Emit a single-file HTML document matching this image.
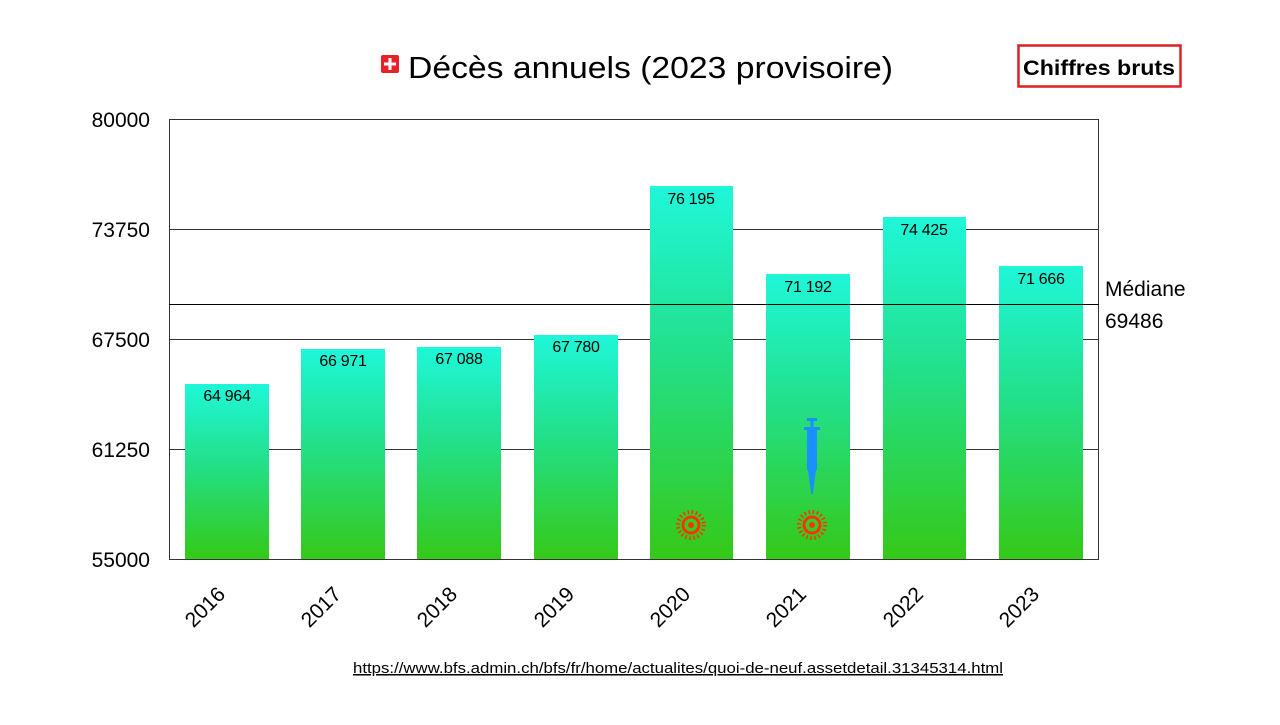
<!DOCTYPE html>
<html><head><meta charset="utf-8"><style>
body{margin:0;background:#fff;width:1280px;height:720px;overflow:hidden;font-family:"Liberation Sans",sans-serif}
</style></head><body>
<svg width="1280" height="720" xmlns="http://www.w3.org/2000/svg" font-family="Liberation Sans, sans-serif">
<defs>
<linearGradient id="g" x1="0" y1="0" x2="0" y2="1">
<stop offset="0" stop-color="#1ff7da"/><stop offset="0.45" stop-color="#22e08a"/><stop offset="1" stop-color="#35c918"/>
</linearGradient>
<g id="virus" fill="none" stroke="#ff3300">
<circle r="8" stroke-width="3"/><circle r="3" fill="#ff3300" stroke="none"/>
<circle r="13" stroke-width="4" stroke-dasharray="1.5 2.6"/>
</g>
</defs>
<rect x="381" y="55" width="18" height="18" rx="2" fill="#e8202a"/>
<rect x="388.5" y="58" width="3" height="12" fill="#fff"/><rect x="384" y="62.5" width="12" height="3" fill="#fff"/>
<text x="408" y="78" font-size="31" fill="#000" textLength="485" lengthAdjust="spacingAndGlyphs">Décès annuels (2023 provisoire)</text>
<rect x="1018.5" y="45.5" width="162" height="41" fill="#fff" stroke="#e02020" stroke-width="2.5"/>
<text x="1099" y="75" font-size="21" font-weight="bold" text-anchor="middle" textLength="152" lengthAdjust="spacingAndGlyphs">Chiffres bruts</text>
<rect x="169.5" y="119.5" width="929" height="440" fill="#fff" stroke="#333" stroke-width="1"/>
<g stroke="#333" stroke-width="1">
<line x1="169" y1="229.5" x2="1099" y2="229.5"/>
<line x1="169" y1="339.5" x2="1099" y2="339.5"/>
<line x1="169" y1="449.5" x2="1099" y2="449.5"/>
</g>
<g font-size="21" text-anchor="end" fill="#000">
<text x="150" y="127">80000</text><text x="150" y="237">73750</text><text x="150" y="347">67500</text><text x="150" y="457">61250</text><text x="150" y="567">55000</text>
</g>
<g fill="url(#g)">
<rect x="185" y="384" width="84" height="175"/>
<rect x="301" y="349" width="84" height="210"/>
<rect x="417" y="347" width="84" height="212"/>
<rect x="534" y="335" width="84" height="224"/>
<rect x="650" y="186" width="83" height="373"/>
<rect x="766" y="274" width="84" height="285"/>
<rect x="883" y="217" width="83" height="342"/>
<rect x="999" y="266" width="84" height="293"/>
</g>
<line x1="169" y1="304.5" x2="1099" y2="304.5" stroke="#000" stroke-width="1"/>
<line x1="169" y1="559.5" x2="1099" y2="559.5" stroke="#333" stroke-width="1"/>
<g font-size="16" text-anchor="middle" fill="#000" letter-spacing="-0.3">
<text x="227" y="401">64 964</text><text x="343" y="366">66 971</text><text x="459" y="364">67 088</text><text x="576" y="352">67 780</text>
<text x="691" y="204">76 195</text><text x="808" y="292">71 192</text><text x="924" y="235">74 425</text><text x="1041" y="284">71 666</text>
</g>
<text x="1105" y="296" font-size="21">Médiane</text>
<text x="1105" y="328" font-size="21">69486</text>
<use href="#virus" x="691" y="525"/>
<use href="#virus" x="812" y="525"/>
<g fill="#1a8fff">
<rect x="807" y="418" width="10" height="3"/><rect x="810.5" y="421" width="3" height="6"/>
<rect x="804" y="427" width="16" height="3"/>
<rect x="807" y="430" width="10" height="40"/>
<polygon points="808,470 816,470 812.8,494 811.2,494"/>
</g>
<g font-size="21" text-anchor="middle" fill="#000">
<text transform="translate(210,612) rotate(-45)">2016</text>
<text transform="translate(326,612) rotate(-45)">2017</text>
<text transform="translate(442,612) rotate(-45)">2018</text>
<text transform="translate(559,612) rotate(-45)">2019</text>
<text transform="translate(675,612) rotate(-45)">2020</text>
<text transform="translate(791,612) rotate(-45)">2021</text>
<text transform="translate(908,612) rotate(-45)">2022</text>
<text transform="translate(1024,612) rotate(-45)">2023</text>
</g>
<text x="353" y="673" font-size="15" text-decoration="underline" textLength="650" lengthAdjust="spacingAndGlyphs">https://www.bfs.admin.ch/bfs/fr/home/actualites/quoi-de-neuf.assetdetail.31345314.html</text>
</svg>
</body></html>
